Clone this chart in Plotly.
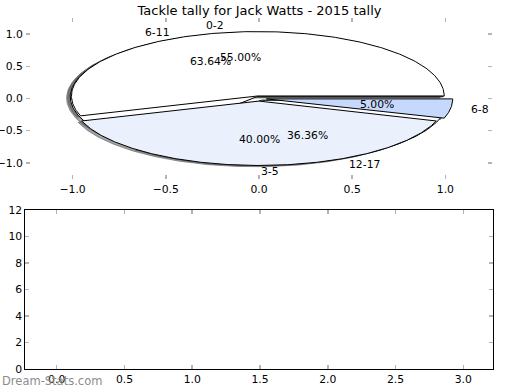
import numpy as np
import plotly.graph_objects as go

title = "Tackle tally for Jack Watts - 2015 tally"
watermark = "Dream-Stats.com"

# pie drawn underneath
pie2_labels = ["6-11", "12-17"]
pie2_values = [7, 4]
pie2_colors = ["#ffffff", "#ffffff"]
pie2_explode = [0.03, 0.03]

# pie drawn on top
pie1_labels = ["0-2", "3-5", "6-8"]
pie1_values = [11, 8, 1]
pie1_colors = ["#ffffff", "#eaf1fd", "#c6d9fd"]
pie1_explode = [0.04, 0.04, 0.04]

top_ticks = [-1.0, -0.5, 0.0, 0.5, 1.0]
bottom_xticks = [0.0, 0.5, 1.0, 1.5, 2.0, 2.5, 3.0]
bottom_yticks = [0, 2, 4, 6, 8, 10, 12]

FONT = "DejaVu Sans"
TICK_GRAY = "#b4b4b4"


def wedge_geom(values, explode):
    total = float(sum(values))
    out = []
    t1 = 0.0
    for v, e in zip(values, explode):
        t2 = t1 + v / total
        a1, a2 = 2 * np.pi * t1, 2 * np.pi * t2
        am = 0.5 * (a1 + a2)
        cx, cy = e * np.cos(am), e * np.sin(am)
        out.append((a1, a2, am, cx, cy, v / total))
        t1 = t2
    return out


def wedge_path(a1, a2, cx, cy, dx=0.0, dy=0.0):
    th = np.linspace(a1, a2, 240)
    xs = np.concatenate([[cx], cx + np.cos(th), [cx]]) + dx
    ys = np.concatenate([[cy], cy + np.sin(th), [cy]]) + dy
    return xs, ys


def shadow_rgba(hexcol):
    h = hexcol.lstrip("#")
    r, g, b = (int(h[i:i + 2], 16) for i in (0, 2, 4))
    return "rgba(%d,%d,%d,0.5)" % (round(0.3 * r), round(0.3 * g), round(0.3 * b))


fig = go.Figure()

g2 = wedge_geom(pie2_values, pie2_explode)
g1 = wedge_geom(pie1_values, pie1_explode)

# shadows (below every wedge)
for geom, cols in ((g2, pie2_colors), (g1, pie1_colors)):
    for (a1, a2, am, cx, cy, f), c in zip(geom, cols):
        xs, ys = wedge_path(a1, a2, cx, cy, -0.02, -0.02)
        sc = shadow_rgba(c)
        fig.add_trace(go.Scatter(x=xs, y=ys, mode="lines", fill="toself",
                                 fillcolor=sc, line=dict(color=sc, width=1),
                                 hoverinfo="skip", showlegend=False,
                                 xaxis="x", yaxis="y"))

# wedges
for geom, cols in ((g2, pie2_colors), (g1, pie1_colors)):
    for (a1, a2, am, cx, cy, f), c in zip(geom, cols):
        xs, ys = wedge_path(a1, a2, cx, cy)
        fig.add_trace(go.Scatter(x=xs, y=ys, mode="lines", fill="toself",
                                 fillcolor=c, line=dict(color="black", width=1),
                                 hoverinfo="skip", showlegend=False,
                                 xaxis="x", yaxis="y"))

annotations = []
for geom, labels in ((g2, pie2_labels), (g1, pie1_labels)):
    for (a1, a2, am, cx, cy, f), lab in zip(geom, labels):
        xt = cx + 1.1 * np.cos(am)
        yt = cy + 1.1 * np.sin(am)
        annotations.append(dict(x=xt, y=yt, xref="x", yref="y", text=lab,
                                showarrow=False,
                                xanchor="left" if xt > -1e-9 else "right",
                                yanchor="middle",
                                font=dict(family=FONT, size=10.8, color="black")))
        xp = cx + 0.6 * np.cos(am)
        yp = cy + 0.6 * np.sin(am)
        annotations.append(dict(x=xp, y=yp, xref="x", yref="y",
                                text="%.2f%%" % (100 * f), showarrow=False,
                                xanchor="center", yanchor="middle",
                                font=dict(family=FONT, size=10.8, color="black")))

annotations.append(dict(x=0.0, y=1 - 381 / 390, xref="paper", yref="paper",
                        text=watermark, showarrow=False, xanchor="left",
                        yanchor="middle",
                        font=dict(family=FONT, size=11.5, color="#8c8c8c")))

# empty lower axes
fig.add_trace(go.Scatter(x=[], y=[], mode="markers", xaxis="x2", yaxis="y2",
                         showlegend=False, hoverinfo="skip"))

tickfont = dict(family=FONT, size=10.8, color="black")
common = dict(ticks="inside", ticklen=4, tickwidth=1.5, tickcolor=TICK_GRAY,
              showgrid=False, zeroline=False, tickfont=tickfont,
              automargin=False)

fig.update_layout(
    width=520, height=390,
    margin=dict(l=0, r=0, t=0, b=0, autoexpand=False),
    paper_bgcolor="white", plot_bgcolor="white",
    title=dict(text=title, x=259.5 / 520, xanchor="center",
               y=1 - 10 / 390, yanchor="middle",
               font=dict(family=FONT, size=13, color="black")),
    xaxis=dict(domain=[26 / 520, 492 / 520], anchor="y", range=[-1.25, 1.25],
               tickvals=top_ticks, tickformat=".1f",
               showline=True, linecolor="rgba(0,0,0,0)", mirror="ticks",
               **common),
    yaxis=dict(domain=[1 - 179 / 390, 1 - 18 / 390], anchor="x",
               range=[-1.25, 1.25], tickvals=top_ticks, tickformat=".1f",
               showline=True, linecolor="rgba(0,0,0,0)", mirror="ticks",
               **common),
    xaxis2=dict(domain=[25.3 / 520, 493.3 / 520], anchor="y2",
                range=[-0.2317, 3.2215], tickvals=bottom_xticks,
                tickformat=".1f", showline=True, linecolor="black",
                linewidth=1, mirror="ticks", **common),
    yaxis2=dict(domain=[1 - 369 / 390, 1 - 210 / 390], anchor="x2",
                range=[0, 12], tickvals=bottom_yticks,
                showline=True, linecolor="black", linewidth=1,
                mirror="ticks", **common),
    annotations=annotations,
)

fig.write_html(
    "out.html",
    config={"displayModeBar": False, "staticPlot": True},
    post_script="document.body.style.margin='0px';"
                "document.body.style.padding='0px';"
                "document.documentElement.style.overflow='hidden';",
)
